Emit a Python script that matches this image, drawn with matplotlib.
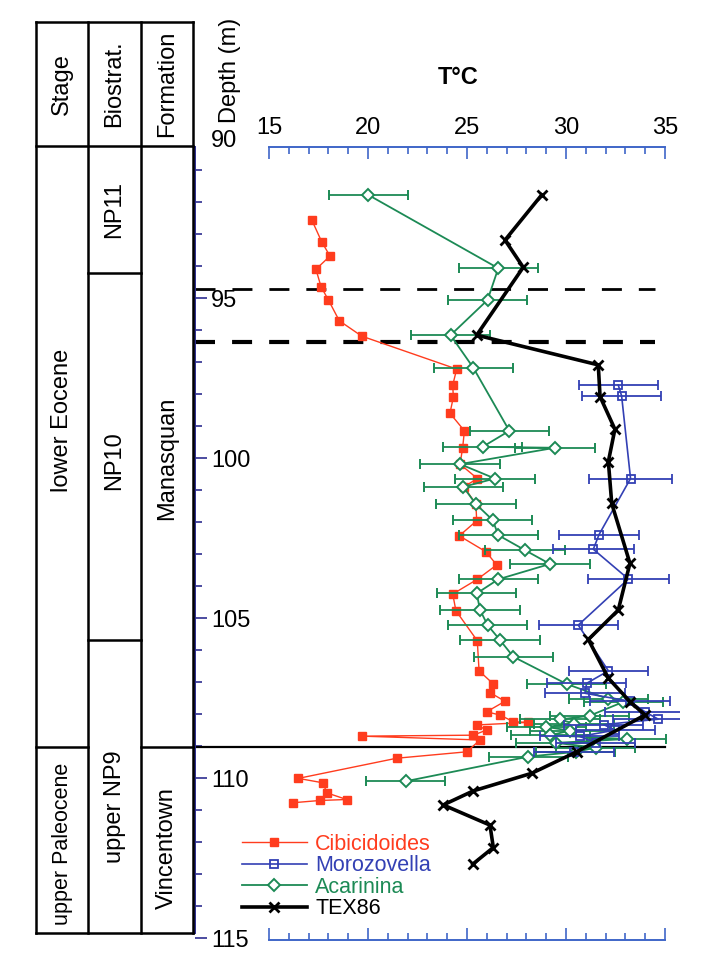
import matplotlib
matplotlib.use('Agg')
import matplotlib.pyplot as plt

plt.rcParams['font.family'] = ['Liberation Sans', 'DejaVu Sans']

# ---------------- data ----------------
cib_depth = [92.56, 93.24, 93.69, 94.10, 94.65, 95.06, 95.71, 96.19, 97.22, 97.72,
             98.10, 98.60, 99.15, 99.68, 100.19, 100.64, 100.90, 101.44, 101.96, 102.43,
             102.93, 103.34, 103.79, 104.25, 104.77, 105.71, 106.65, 107.06, 107.33, 107.60,
             107.93, 108.03, 108.24, 108.26, 108.34, 108.50, 108.66, 108.69, 108.81, 109.18,
             109.38, 110.01, 110.15, 110.46, 110.67, 110.70, 110.77]
cib_temp = [17.16, 17.66, 18.08, 17.37, 17.63, 18.00, 18.55, 19.68, 24.48, 24.28,
            24.31, 24.14, 24.87, 24.78, 24.65, 25.52, 24.85, 25.45, 25.49, 24.61,
            25.96, 26.50, 25.52, 24.28, 24.44, 25.52, 25.61, 26.33, 26.16, 26.92,
            25.99, 26.67, 27.34, 28.10, 25.49, 25.99, 25.32, 19.68, 25.66, 24.98,
            21.45, 16.48, 17.74, 17.91, 18.92, 17.58, 16.23]

acar_depth = [91.78, 94.07, 95.06, 96.16, 97.18, 99.15, 99.65, 99.68, 100.19, 100.64,
              100.90, 101.44, 101.94, 102.41, 102.88, 103.31, 103.79, 104.23, 104.75, 105.22,
              105.69, 106.21, 107.06, 107.53, 107.62, 108.05, 108.17, 108.30, 108.40, 108.52,
              108.66, 108.78, 108.90, 109.05, 109.18, 109.33, 110.10]
acar_temp = [20.02, 26.58, 26.04, 24.17, 25.32, 27.14, 25.79, 29.44, 24.65, 26.41,
             24.81, 25.45, 26.30, 26.58, 27.93, 29.19, 26.58, 25.49, 25.66, 26.04,
             26.67, 27.34, 30.03, 32.14, 32.90, 31.20, 29.70, 30.40, 29.00, 30.20,
             29.20, 33.06, 29.50, 31.50, 30.50, 28.10, 21.90]
ACAR_ERR = 2.0

moro_depth = [97.72, 98.06, 100.64, 102.39, 102.85, 103.78, 105.22, 106.65, 107.04, 107.35,
              107.60, 107.93, 108.16, 108.33, 108.50, 108.70, 108.90, 109.20]
moro_temp = [32.64, 32.81, 33.26, 31.67, 31.38, 33.15, 30.62, 32.14, 31.04, 30.96,
             33.23, 33.99, 34.66, 31.90, 32.50, 30.70, 31.50, 30.40]
moro_err = [2.0, 2.0, 2.1, 2.0, 2.05, 2.05, 2.0, 2.0, 2.0, 2.0,
            2.0, 2.0, 2.27, 2.0, 2.0, 2.0, 2.0, 2.0]

tex_depth = [91.78, 93.19, 94.04, 96.16, 97.09, 98.08, 99.10, 100.11, 101.42, 103.29,
             104.75, 105.67, 106.88, 107.61, 108.03, 109.18, 109.85, 110.40, 110.84, 111.47,
             112.17, 112.69]
tex_temp = [28.77, 26.92, 27.84, 25.49, 31.63, 31.72, 32.47, 32.14, 32.31, 33.23,
            32.64, 31.13, 32.14, 33.23, 33.99, 30.54, 28.27, 25.32, 23.80, 26.16,
            26.33, 25.29]

series_labels = ['Cibicidoides', 'Morozovella', 'Acarinina', 'TEX86']

depth_ticks = [90, 95, 100, 105, 110, 115]
depth_minor = list(range(91, 115))
temp_ticks = [15, 20, 25, 30, 35]
temp_minor = [t for t in range(16, 35) if t % 5]

dashed_depths = [94.72, 96.38]
boundary_depth = 109.03

# stratigraphy
strat_headers = ['Stage', 'Biostrat.', 'Formation']
stage_labels = ['lower Eocene', 'upper Paleocene']
stage_label_depths = [98.84, 112.05]
bio_labels = ['NP11', 'NP10', 'upper NP9']
bio_label_depths = [92.25, 100.1, 110.9]
bio_bounds = [94.22, 105.69]
form_labels = ['Manasquan', 'Vincentown']
form_label_depths = [100.0, 112.2]

# ---------------- style ----------------
RED = '#ff3c1e'
BLUE = '#3340b4'
GREEN = '#1c8a55'
AXBLUE = '#3f66c8'
NAVY = '#2e2e90'
FS = 17

W, H = 714, 963
fig = plt.figure(figsize=(W / 100, H / 100), dpi=100)


def px_axes(l, t, r, b):
    return [l / W, 1 - b / H, (r - l) / W, (b - t) / H]


# ---------------- main axes ----------------
ax = fig.add_axes(px_axes(195, 138, 680, 940))
ax.set_xlim(11.263, 35.758)
ax.set_ylim(115.06, 90)

red_line, = ax.plot(cib_temp, cib_depth, color=RED, lw=1.0, marker='s', ms=5.3, mfc=RED, mec=RED,
                    zorder=3)
acar = ax.errorbar(acar_temp, acar_depth, xerr=ACAR_ERR, color=GREEN, lw=1.3, marker='D', ms=6,
                   mfc='white', mec=GREEN, mew=1.4, ecolor=GREEN, elinewidth=1.3,
                   capsize=3.5, capthick=1.3, zorder=4)
moro = ax.errorbar(moro_temp, moro_depth, xerr=moro_err, color=BLUE, lw=1.2, marker='s', ms=5.5,
                   mfc='none', mec=BLUE, mew=1.3, ecolor=BLUE, elinewidth=1.3,
                   capsize=3.5, capthick=1.3, zorder=5)
tex, = ax.plot(tex_temp, tex_depth, color='black', lw=2.6, marker='x', ms=7, mew=2, zorder=6)

# horizontal markers
ax.axhline(dashed_depths[0], xmin=0, xmax=(655 - 195) / 485, color='black', lw=2.0,
           linestyle=(0, (7.2, 6.1)), zorder=2)
ax.axhline(dashed_depths[1], xmin=0, xmax=(655 - 195) / 485, color='black', lw=3.0,
           linestyle=(0, (4.8, 4.1)), zorder=2)
ax.axhline(boundary_depth, xmin=0, xmax=(665 - 195) / 485, color='black', lw=1.6, zorder=2)

# spines
ax.spines['right'].set_visible(False)
ax.spines['top'].set_position(('data', 90.28))
ax.spines['top'].set_bounds(15, 35)
ax.spines['bottom'].set_bounds(15, 35)
ax.spines['left'].set_bounds(90.28, 114.85)
for s in ('top', 'bottom'):
    ax.spines[s].set_color(AXBLUE)
    ax.spines[s].set_linewidth(1.4)
ax.spines['left'].set_color(NAVY)
ax.spines['left'].set_linewidth(1.4)

ax.set_xticks(temp_ticks)
ax.set_xticks(temp_minor, minor=True)
ax.tick_params(axis='x', which='both', top=True, bottom=True, labeltop=True, labelbottom=False,
               direction='in', color=AXBLUE, width=1.2, labelsize=FS, pad=6)
ax.tick_params(axis='x', which='major', length=8.5)
ax.tick_params(axis='x', which='minor', length=5)

ax.set_yticks(depth_ticks)
ax.set_yticks(depth_minor, minor=True)
ax.tick_params(axis='y', which='both', left=True, right=False, direction='in', color=NAVY,
               width=1.2, labelsize=FS, pad=-11.5)
ax.tick_params(axis='y', which='major', length=8.5)
ax.tick_params(axis='y', which='minor', length=5)
for lbl in ax.get_yticklabels():
    lbl.set_horizontalalignment('left')
ax.yaxis.get_major_ticks()[0].tick1line.set_visible(False)

fig.text(458 / W, 1 - 78 / H, 'T°C', fontsize=FS, fontweight='bold', ha='center', va='center')
fig.text(230 / W, 1 - 70 / H, 'Depth (m)', rotation=90, fontsize=FS, ha='center', va='center')

leg = ax.legend([red_line, moro.lines[0], acar.lines[0], tex], series_labels,
                loc='upper left', bbox_to_anchor=((242 - 195) / 485, (940 - 834) / 802),
                frameon=False, fontsize=15.5, handlelength=3.0, handletextpad=0.4,
                labelspacing=0.02, borderpad=0, borderaxespad=0, numpoints=1,
                labelcolor=[RED, BLUE, GREEN, 'black'])

# ---------------- stratigraphic column ----------------
sax = fig.add_axes(px_axes(36, 22, 193, 933))
sax.set_xlim(0, 3)
top_d, head_d, bot_d = 86.375, 90.25, 114.85
sax.set_ylim(bot_d, top_d)
sax.axis('off')
lk = dict(color='black', lw=1.8, clip_on=False, solid_capstyle='projecting')
for xv in (0, 1, 2, 3):
    sax.plot([xv, xv], [top_d, bot_d], **lk)
for yv in (top_d, head_d, bot_d):
    sax.plot([0, 3], [yv, yv], **lk)
sax.plot([0, 1], [boundary_depth, boundary_depth], **lk)
sax.plot([2, 3], [boundary_depth, boundary_depth], **lk)
for b in bio_bounds:
    sax.plot([1, 2], [b, b], **lk)

head_mid = 88.31
for i, t in enumerate(strat_headers):
    sax.text(i + 0.5, head_mid, t, rotation=90, ha='center', va='center', fontsize=FS)
for t, d, fs in zip(stage_labels, stage_label_depths, [FS, 15.5]):
    sax.text(0.5, d, t, rotation=90, ha='center', va='center', fontsize=fs)
for t, d in zip(bio_labels, bio_label_depths):
    sax.text(1.5, d, t, rotation=90, ha='center', va='center', fontsize=FS)
for t, d in zip(form_labels, form_label_depths):
    sax.text(2.5, d, t, rotation=90, ha='center', va='center', fontsize=FS)

fig.savefig('out.png', dpi=100)
